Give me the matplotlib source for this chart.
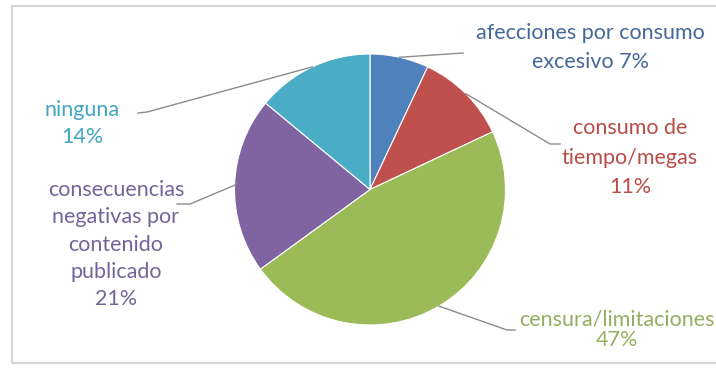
import numpy as np
import matplotlib
matplotlib.use("Agg")
import matplotlib.pyplot as plt
from matplotlib.patches import Rectangle

# Survey answers (percent of respondents)
categories = [
    "afecciones por consumo\nexcesivo",
    "consumo de\ntiempo/megas",
    "censura/limitaciones",
    "consecuencias\nnegativas por\ncontenido\npublicado",
    "ninguna",
]
values = [7, 11, 47, 21, 14]
pct_sep = [" ", "\n", "\n", "\n", "\n"]

slice_colors = ["#4f81bd", "#c0504d", "#9bbb59", "#8064a2", "#4bacc6"]
label_colors = ["#45689a", "#b84c48", "#97ad60", "#73649a", "#41a6c0"]

W, H = 716, 368
fig = plt.figure(figsize=(W / 100, H / 100), dpi=100)
fig.patch.set_facecolor("white")
ax = fig.add_axes([0, 0, 1, 1])


def py(y):
    """Convert a top-down pixel row into axes y."""
    return H - y


cx, cy, r = 370, py(189.5), 135.5
wedges, _ = ax.pie(values, colors=slice_colors, startangle=90,
                   counterclock=False, center=(cx, cy), radius=r,
                   wedgeprops=dict(edgecolor="white", linewidth=0.8),
                   frame=True)
ax.set_xlim(0, W)
ax.set_ylim(0, H)
ax.set_aspect("equal")
ax.axis("off")

# chart area frame
ax.add_patch(Rectangle((12, py(363)), W + 20, 363 - 6, fill=False,
                       edgecolor="#d6d6d6", lw=1.6, zorder=0))

# label layout: centre x, first line y, line step (pixels, top-down)
label_pos = [
    (590, 33, 29),
    (630, 128, 29.5),
    (617, 320, 20),
    (116, 190, 27.3),
    (82, 110, 27),
]
# leader line bends from the slice edge toward each label
leader_pts = [
    [(463, 53)],
    [(550, 144), (560, 144)],
    [(507, 330), (515, 330)],
    [(190, 204), (177, 204)],
    [(147, 112), (138, 113)],
]

for w, cat, v, sep, col, (lx, ly, step), pts in zip(
        wedges, categories, values, pct_sep, label_colors, label_pos, leader_pts):
    text = f"{cat}{sep}{v}%"
    for i, line in enumerate(text.split("\n")):
        ax.text(lx, py(ly + i * step), line, ha="center", va="center",
                color=col, fontsize=15.5, family=["Lato", "DejaVu Sans"])
    mid = np.deg2rad((w.theta1 + w.theta2) / 2)
    ex, ey = cx + r * np.cos(mid), cy + r * np.sin(mid)
    xs = [ex] + [p[0] for p in pts]
    ys = [ey] + [py(p[1]) for p in pts]
    ax.plot(xs, ys, color="#8c8c8c", lw=1.0, zorder=3)

fig.savefig("out.png", dpi=100, facecolor="white")
